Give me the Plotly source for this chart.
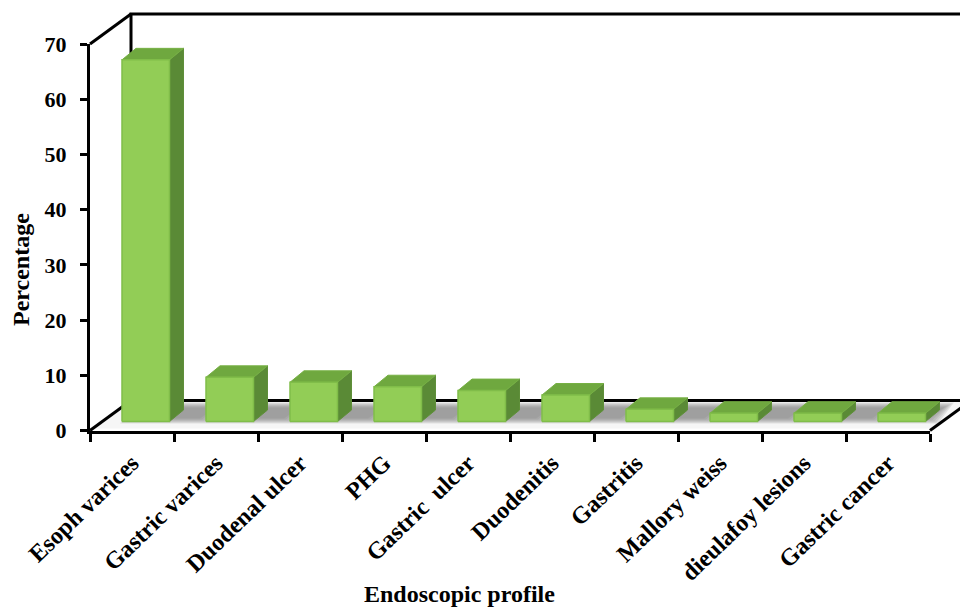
import plotly.graph_objects as go

categories = ["Esoph varices", "Gastric varices", "Duodenal ulcer", "PHG", "Gastric\u00a0 ulcer",
              "Duodenitis", "Gastritis", "Mallory weiss", "dieulafoy lesions", "Gastric cancer"]
values = [65.5, 8.0, 7.1, 6.3, 5.6, 4.8, 2.2, 1.5, 1.5, 1.5]
y_ticks = [0, 10, 20, 30, 40, 50, 60, 70]

# Page layout of the box (pixels)
W, H = 960, 609
LEFT, RIGHT, TOP, BOTTOM = 90, 930, 44, 430.5
n = len(categories)
Y_MAX = 70
PX_X = (RIGHT - LEFT) / n
PX_Y = (BOTTOM - TOP) / Y_MAX
# Projection of the pseudo-3D box, in axis units
WALL_DX, WALL_DY = 41 / PX_X, 30 / PX_Y
BAR_LEFT, BAR_W = 32 / PX_X, 47.5 / PX_X
BAR_BASE = 9 / PX_Y
BAR_DX, BAR_DY = 14 / PX_X, 11.5 / PX_Y
FONT = "Liberation Serif"

def merge(polys):
    xs, ys = [], []
    for p in polys:
        xs += [q[0] for q in p] + [p[0][0], None]
        ys += [q[1] for q in p] + [p[0][1], None]
    return xs, ys

fig = go.Figure()

# Hidden trace that carries the category axis
fig.add_trace(go.Scatter(x=categories, y=values, mode="markers", marker=dict(opacity=0),
                         hoverinfo="skip", showlegend=False))

def add_fill(polys, color, line=None, w=1):
    x, y = merge(polys)
    fig.add_trace(go.Scatter(x=x, y=y, xaxis="x2", yaxis="y2", mode="lines", fill="toself", fillcolor=color,
                             line=dict(color=line or "rgba(0,0,0,0)", width=w),
                             hoverinfo="skip", showlegend=False))

def add_line(pts):
    fig.add_trace(go.Scatter(x=[p[0] for p in pts], y=[p[1] for p in pts], xaxis="x2", yaxis="y2", mode="lines",
                             line=dict(color="black", width=3), hoverinfo="skip", showlegend=False))

# Floor, kept just above the front axis line
y_in = 2 / PX_Y
add_fill([[(0.03, y_in), (n, y_in), (n + WALL_DX, WALL_DY), (WALL_DX, WALL_DY)]], "#f6f6f6")
# Soft shadows on the floor, between the bars
for step in range(6):
    inset = step * 2.0
    sx = inset / PX_X
    sy = inset * 0.5 / PX_Y
    polys = []
    for i in range(n):
        x0 = i + BAR_LEFT - 2 / PX_X + sx
        x1 = i + 1 + BAR_LEFT + 4 / PX_X - sx
        y0 = BAR_BASE - 2 / PX_Y + sy
        y1 = WALL_DY - 2 / PX_Y - sy
        if i == n - 1:
            x1 = n + 8 / PX_X - sx
        polys.append([(x0, y0), (x1, y0), (x1 + 16 / PX_X, y1), (x0 + 16 / PX_X, y1)])
    add_fill(polys, "rgba(120,120,120,0.17)")

# Walls
top_y = Y_MAX + 30 / PX_Y
add_line([(0, Y_MAX), (WALL_DX, top_y)])
add_line([(WALL_DX, WALL_DY), (WALL_DX, top_y), (n + 1, top_y)])
add_line([(WALL_DX, WALL_DY), (n + 1, WALL_DY)])
add_line([(0, 0), (WALL_DX, WALL_DY)])
add_line([(n, 0), (n + WALL_DX, WALL_DY)])

# Bars
front, top, side = [], [], []
for i, v in enumerate(values):
    x0 = i + BAR_LEFT
    x1 = x0 + BAR_W
    y0 = BAR_BASE
    y1 = v + BAR_BASE
    front.append([(x0, y0), (x1, y0), (x1, y1), (x0, y1)])
    top.append([(x0, y1), (x1, y1), (x1 + BAR_DX, y1 + BAR_DY), (x0 + BAR_DX, y1 + BAR_DY)])
    side.append([(x1, y0), (x1 + BAR_DX, y0 + BAR_DY), (x1 + BAR_DX, y1 + BAR_DY), (x1, y1)])
add_fill(side, "#5a8a36", line="#5f8f3a")
add_fill(top, "#6fa83f", line="#76b044")
add_fill(front, "#92cd56", line="#80bd49", w=1.5)

def bold(size):
    return dict(family=FONT, size=size, color="black", weight=700)

fig.update_layout(
    width=W, height=H, autosize=False,
    margin=dict(l=0, r=0, t=0, b=0, autoexpand=False),
    paper_bgcolor="white", plot_bgcolor="rgba(0,0,0,0)", showlegend=False,
    xaxis=dict(type="category", categoryorder="array", categoryarray=categories,
               domain=[LEFT / W, RIGHT / W], anchor="y",
               range=[-0.5, n - 0.5], tickson="boundaries", ticks="outside", ticklen=8, tickwidth=2.5,
               tickcolor="black", showline=True, linecolor="black", linewidth=3, showgrid=False,
               zeroline=False, tickangle=-44, tickfont=bold(24), ticklabelstandoff=6, automargin=False),
    yaxis=dict(domain=[(H - BOTTOM) / H, (H - TOP) / H], anchor="x",
               range=[0, Y_MAX], tickvals=y_ticks, ticks="outside", ticklen=7, tickwidth=2.5,
               tickcolor="black", showline=True, linecolor="black", linewidth=3, showgrid=False,
               zeroline=False, tickfont=bold(22), ticklabelstandoff=9, automargin=False),
    xaxis2=dict(domain=[0, 1], anchor="y2", range=[-LEFT / PX_X, (W - LEFT) / PX_X], visible=False),
    yaxis2=dict(domain=[0, 1], anchor="x2", range=[-(H - BOTTOM) / PX_Y, BOTTOM / PX_Y], visible=False),
    annotations=[
        dict(text="Endoscopic profile", x=459 / W, y=1 - 594 / H, xref="paper", yref="paper",
             xanchor="center", yanchor="middle", showarrow=False, font=bold(24)),
        dict(text="Percentage", x=21 / W, y=1 - 270 / H, xref="paper", yref="paper", textangle=-90,
             xanchor="center", yanchor="middle", showarrow=False, font=bold(24)),
    ],
)
fig.write_html("out.html", config=dict(displayModeBar=False),
               post_script="document.body.style.margin='0';document.body.style.overflow='hidden';")
